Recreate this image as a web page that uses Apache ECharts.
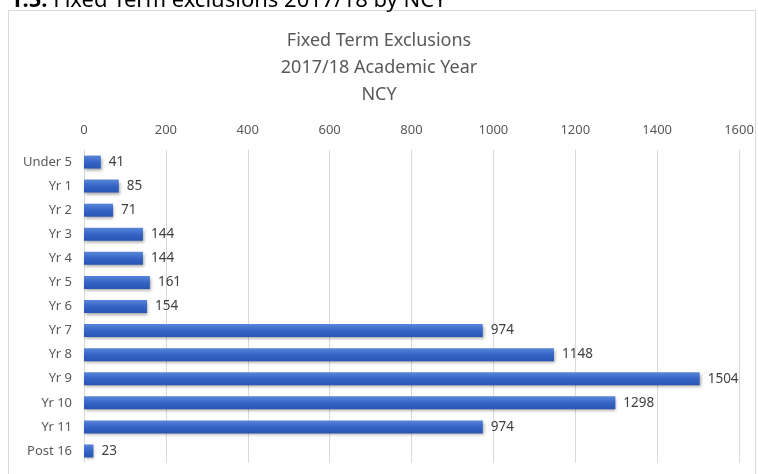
<!DOCTYPE html>
<html>
<head>
<meta charset="utf-8">
<script src="https://cdn.jsdelivr.net/npm/echarts@6/dist/echarts.min.js"></script>
<style>
    html, body { margin: 0; padding: 0; background: #fff; }
    #main { width: 758px; height: 474px; }
</style>
</head>
<body>
<div id="main"></div>
<script>
// Chart data
const categories = ["Under 5", "Yr 1", "Yr 2", "Yr 3", "Yr 4", "Yr 5", "Yr 6", "Yr 7", "Yr 8", "Yr 9", "Yr 10", "Yr 11", "Post 16"];
const exclusions = [41, 85, 71, 144, 144, 161, 154, 974, 1148, 1504, 1298, 974, 23];
const titleLines = ["Fixed Term Exclusions", "2017/18 Academic Year", "NCY"];

var chartDom = document.getElementById("main");
var myChart = echarts.init(chartDom);

const font = "'Noto Sans', 'Open Sans', sans-serif";

const option = {
    animation: false,
    graphic: [
        {
            // outer box of the chart area
            type: "rect",
            shape: { x: 8.5, y: 10.5, width: 747, height: 480 },
            style: { fill: "none", stroke: "#d9d9d9", lineWidth: 1 }
        },
        {
            // caption above the chart, clipped by the page edge
            type: "text",
            left: 10,
            top: -10,
            style: {
                text: "{b|1.5:} Fixed Term exclusions 2017/18 by NCY",
                fontSize: 22,
                fontFamily: font,
                fill: "#000",
                rich: { b: { fontWeight: "bold", fontSize: 22, fontFamily: font, fill: "#000" } }
            }
        }
    ],
    title: {
        text: titleLines.join("\n"),
        left: "center",
        top: 22,
        textStyle: {
            color: "#595959",
            fontSize: 18,
            fontWeight: "normal",
            fontFamily: font,
            lineHeight: 27
        }
    },
    grid: { left: 84, right: 19, top: 150, bottom: 11, containLabel: false },
    xAxis: {
        type: "value",
        position: "top",
        min: 0,
        max: 1600,
        interval: 200,
        axisLine: { show: false },
        axisTick: { show: false },
        axisLabel: {
            color: "#595959",
            fontSize: 13,
            fontFamily: font,
            margin: 13,
            formatter: function (v) { return String(v); }
        },
        splitLine: { lineStyle: { color: "#d9d9d9", width: 1 } }
    },
    yAxis: {
        type: "category",
        inverse: true,
        data: categories,
        axisLine: { show: false },
        axisTick: { show: false },
        axisLabel: { color: "#595959", fontSize: 13, fontFamily: font, margin: 12 }
    },
    series: [
        {
            type: "bar",
            data: exclusions,
            barWidth: 13,
            itemStyle: {
                color: new echarts.graphic.LinearGradient(0, 0, 0, 1, [
                    { offset: 0, color: "#5a86d8" },
                    { offset: 0.5, color: "#3464c6" },
                    { offset: 1, color: "#2a55b0" }
                ]),
                shadowColor: "rgba(0,0,0,0.35)",
                shadowBlur: 3,
                shadowOffsetX: 1,
                shadowOffsetY: 2
            },
            label: {
                show: true,
                position: "right",
                distance: 8,
                color: "#404040",
                fontSize: 13.5,
                fontFamily: font
            }
        }
    ]
};

option && myChart.setOption(option);
</script>
</body>
</html>
